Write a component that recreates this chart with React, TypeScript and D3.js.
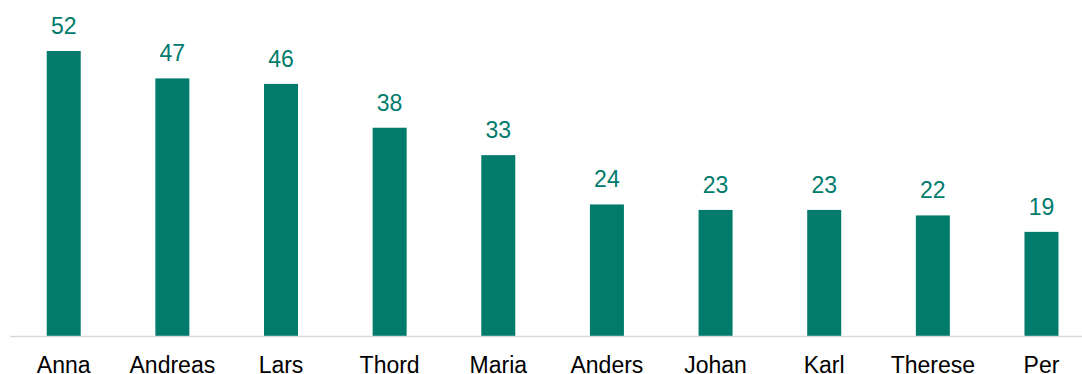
import React from "react";
import * as d3 from "d3";

const categories = ["Anna", "Andreas", "Lars", "Thord", "Maria", "Anders", "Johan", "Karl", "Therese", "Per"];
const values = [52, 47, 46, 38, 33, 24, 23, 23, 22, 19];

const W = 1082;
const H = 374;
const BAR = "#007B6C";

export default function App() {
  const x = d3.scaleBand<string>().domain(categories).range([9.4, 1095.8]).paddingInner(0).paddingOuter(0);
  const y = d3.scaleLinear().domain([0, 52]).range([336, 51]);
  const bw = 34;
  const font = "Arial, 'Liberation Sans', sans-serif";
  return (
    <svg width={W} height={H} style={{ position: "absolute", left: 0, top: 0 }} fontFamily={font}>
      {categories.map((c, i) => {
        const cx = (x(c) as number) + x.bandwidth() / 2;
        const v = values[i];
        return (
          <g key={c}>
            <rect x={cx - bw / 2} y={y(v)} width={bw} height={y(0) - y(v)} fill={BAR} />
            <text x={cx} y={y(v) - 17} textAnchor="middle" fontSize={23} fill={BAR}>{v}</text>
            <text x={cx} y={372.5} textAnchor="middle" fontSize={23} fill="#000">{c}</text>
          </g>
        );
      })}
      <line x1={10} x2={W} y1={336.5} y2={336.5} stroke="#d9d9d9" strokeWidth={1.5} />
    </svg>
  );
}
